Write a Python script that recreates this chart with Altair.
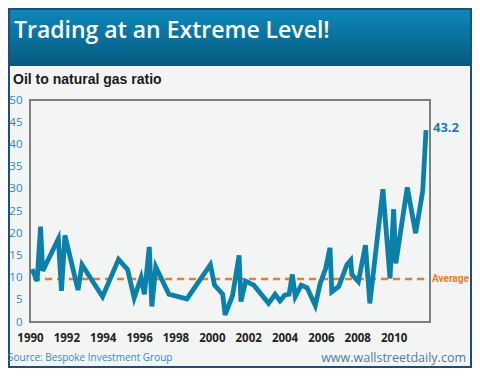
import altair as alt
import pandas as pd

# ---- data ----
years = [1990.11, 1990.39, 1990.58, 1990.70, 1991.56, 1991.73, 1991.92, 1992.64, 1992.86, 1993.99,
         1994.87, 1995.37, 1995.73, 1996.11, 1996.29, 1996.56, 1996.70, 1996.92, 1997.64, 1998.63,
         1999.92, 2000.15, 2000.60, 2000.73, 2001.14, 2001.50, 2001.60, 2001.86, 2002.31, 2003.12,
         2003.48, 2003.75, 2004.02, 2004.25, 2004.43, 2004.59, 2004.92, 2005.24, 2005.69, 2005.96,
         2006.26, 2006.50, 2006.60, 2006.98, 2007.43, 2007.64, 2007.70, 2008.06, 2008.45, 2008.69,
         2009.41, 2009.80, 2010.00, 2010.12, 2010.75, 2011.21, 2011.60, 2011.78]
ratio = [11.9, 9.2, 21.5, 11.5, 18.75, 7.0, 19.5, 7.2, 12.9, 5.7,
         14.1, 11.8, 5.4, 10.0, 6.25, 16.9, 3.5, 12.4, 6.25, 5.2,
         12.9, 8.3, 6.25, 1.6, 5.95, 15.0, 4.6, 9.2, 8.3, 4.2,
         6.25, 4.75, 6.1, 6.25, 10.7, 5.7, 8.3, 7.7, 3.7, 8.7,
         12.05, 16.7, 6.8, 8.0, 12.9, 13.9, 10.7, 9.1, 17.3, 4.2,
         29.9, 9.8, 25.4, 13.2, 30.3, 20.0, 29.5, 43.2]
average = 9.7
latest_label = "43.2"
x_ticks = list(range(1990, 2011, 2))
y_ticks = list(range(0, 51, 5))

title_text = "Trading at an Extreme Level!"
subtitle_text = "Oil to natural gas ratio"
source_text = "Source: Bespoke Investment Group"
site_text = "www.wallstreetdaily.com"

assert len(years) == len(ratio)

W, H = 400, 222
df = pd.DataFrame({"year": years, "ratio": ratio})
last = pd.DataFrame({"year": [years[-1]], "ratio": [ratio[-1]], "label": [latest_label]})
one = pd.DataFrame({"k": [0]})

x_scale = alt.Scale(domain=[1990, 2012], nice=False, zero=False)
y_scale = alt.Scale(domain=[0, 50], nice=False)

bg = alt.Chart(one).mark_rect(fill="#f3f5f5", stroke="#1d4f7c", strokeWidth=2).encode(
    x=alt.value(-21), x2=alt.value(441), y=alt.value(-91), y2=alt.value(267))

header = alt.Chart(one).mark_rect(
    color=alt.LinearGradient(
        gradient="linear",
        stops=[alt.GradientStop(color="#0c88ba", offset=0),
               alt.GradientStop(color="#07597f", offset=1)],
        x1=0, x2=0, y1=0, y2=1)
).encode(x=alt.value(-20), x2=alt.value(440), y=alt.value(-90), y2=alt.value(-34))

title = alt.Chart(one).mark_text(
    text=title_text, align="left", baseline="alphabetic", font="Open Sans",
    fontSize=23, fontWeight=600, color="white"
).encode(x=alt.value(-16), y=alt.value(-62))

subtitle = alt.Chart(one).mark_text(
    text=subtitle_text, align="left", baseline="alphabetic", font="Liberation Sans",
    fontSize=14, fontWeight="bold", color="#1a1a1a"
).encode(x=alt.value(-17), y=alt.value(-16))

source = alt.Chart(one).mark_text(
    text=source_text, align="left", baseline="alphabetic", font="Open Sans",
    fontSize=10, color="#3d86b8"
).encode(x=alt.value(-22), y=alt.value(261))

site = alt.Chart(one).mark_text(
    text=site_text, align="right", baseline="alphabetic", font="Open Sans",
    fontSize=12.5, color="#4a7ea6"
).encode(x=alt.value(436), y=alt.value(262))

frame = alt.Chart(one).mark_rect(fillOpacity=0, stroke="#7d7d7d", strokeWidth=2).encode(
    x=alt.value(0), x2=alt.value(W), y=alt.value(0), y2=alt.value(H))

avg_rule = alt.Chart(one).mark_rule(color="#f07d22", strokeWidth=2.5, strokeDash=[7, 5]).encode(
    x=alt.value(3), x2=alt.value(W - 2), y=alt.datum(average))

avg_text = alt.Chart(one).mark_text(
    text="Average", align="left", baseline="middle", font="Roboto",
    fontSize=10, fontWeight="bold", color="#f07d22"
).encode(x=alt.value(W + 2), y=alt.datum(average))

line = alt.Chart(df).mark_line(color="#0b80ab", strokeWidth=4.8).encode(
    x=alt.X("year:Q", scale=x_scale,
            axis=alt.Axis(values=x_ticks, tickCount=len(x_ticks), format="d", title=None,
                          grid=False, ticks=False, domain=False, labelFlush=False,
                          labelOverlap=False, zindex=2,
                          labelFont="Open Sans", labelFontWeight="bold", labelFontSize=11.5,
                          labelColor="#222222", labelPadding=10)),
    y=alt.Y("ratio:Q", scale=y_scale,
            axis=alt.Axis(values=y_ticks, tickCount=len(y_ticks), title=None, grid=False,
                          ticks=False, domain=False, labelOverlap=False,
                          zindex=2, labelFont="Open Sans", labelFontSize=11.5,
                          labelColor="#2a86bd", labelPadding=8)),
)

last_text = alt.Chart(last).mark_text(
    align="left", baseline="middle", dx=7, dy=-2, font="Open Sans",
    fontSize=13, fontWeight="bold", color="#1580b0"
).encode(x=alt.X("year:Q", scale=x_scale), y=alt.Y("ratio:Q", scale=y_scale), text="label:N")

chart = alt.layer(
    bg, header, title, subtitle, source, site, frame, avg_rule, avg_text, line, last_text
).properties(
    width=W, height=H,
    autosize=alt.AutoSizeParams(type="none"),
    padding={"left": 22, "top": 92, "right": 42, "bottom": 46},
    background="white",
).configure_view(stroke="transparent")

chart.save("out.html", embed_options={"renderer": "svg", "actions": False})
